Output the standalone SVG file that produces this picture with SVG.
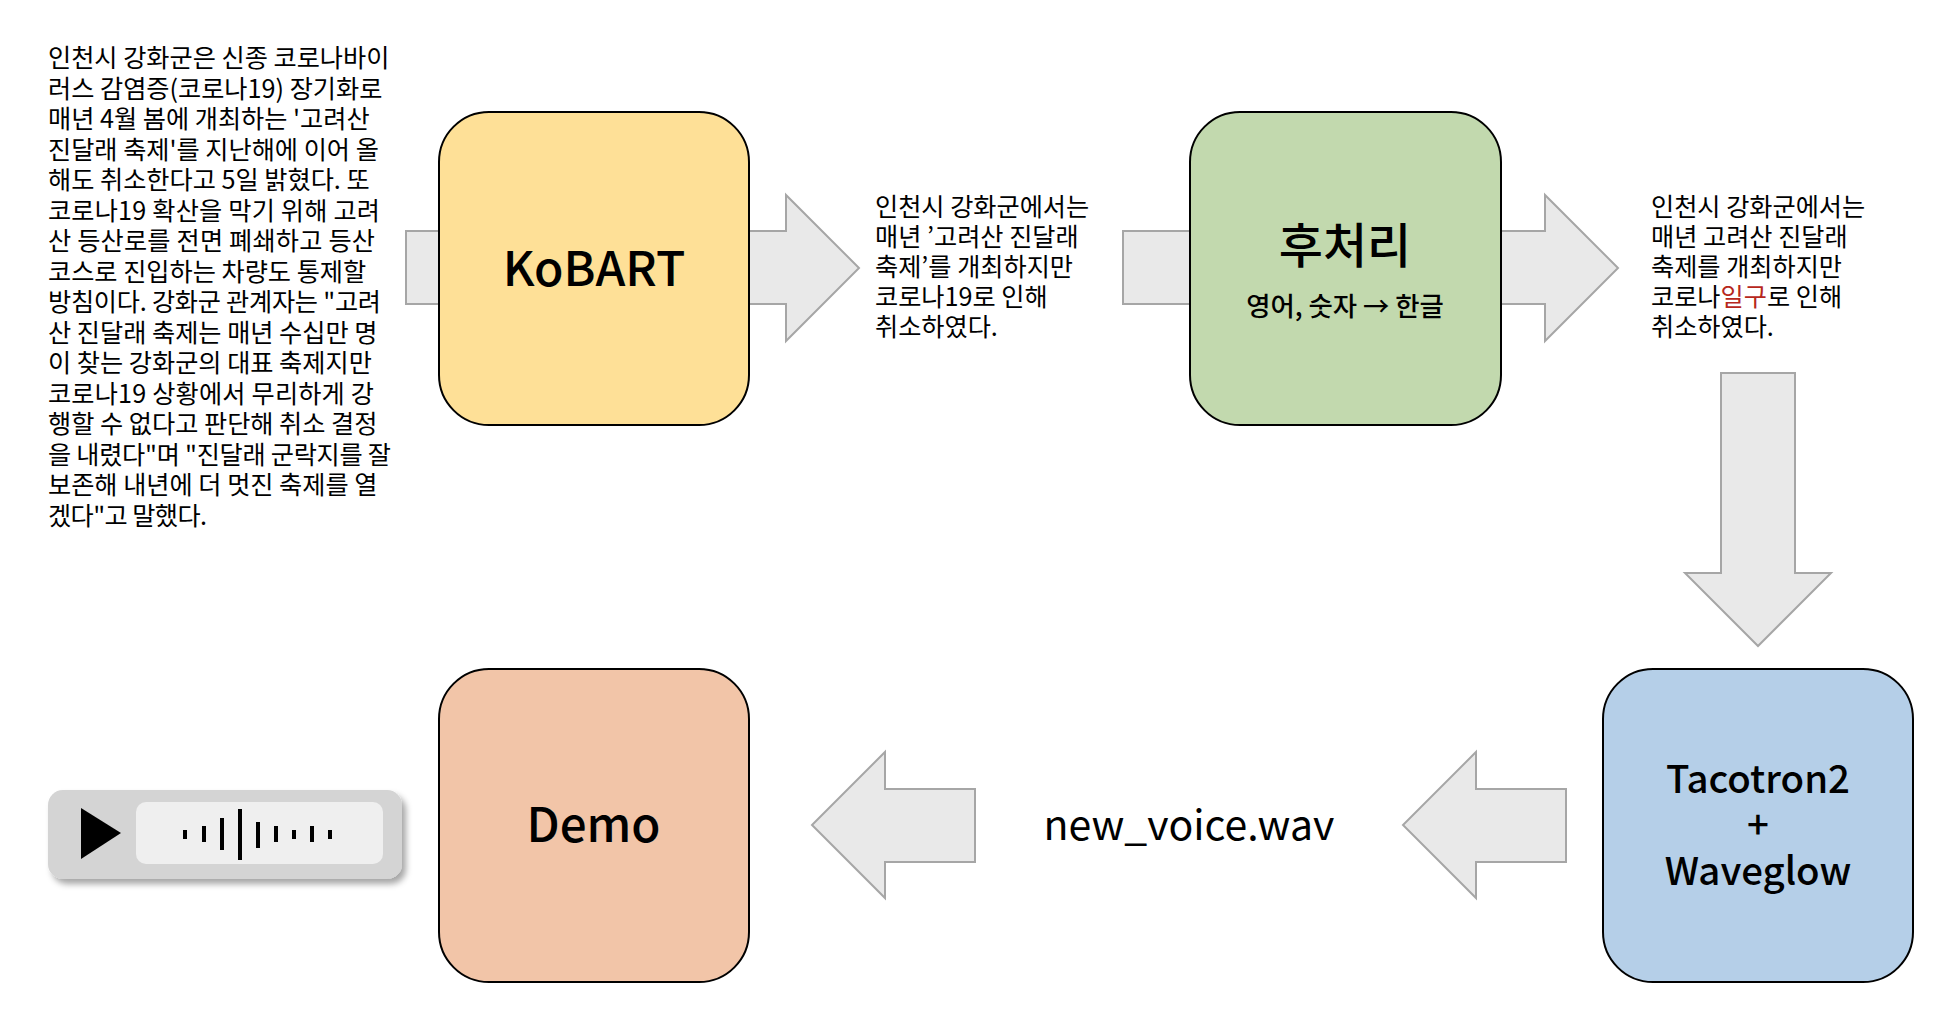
<svg xmlns="http://www.w3.org/2000/svg" width="1950" height="1028" viewBox="0 0 1950 1028">
<style>
text{font-family:"Noto Sans CJK KR","Noto Sans",sans-serif;fill:#000}
.body{font-size:25.2px}
.c{text-anchor:middle}
.box{stroke:#000;stroke-width:2}
.arrow{fill:#e9e9e9;stroke:#a6a6a6;stroke-width:2}
.t{font-size:48px;font-weight:500}
.m{font-size:38.4px;font-weight:500}
</style>
<defs><filter id="sh" x="-10%" y="-20%" width="125%" height="150%"><feDropShadow dx="4" dy="5" stdDeviation="3" flood-color="#000" flood-opacity="0.35"/></filter></defs>
<g id="connectors">
<polygon class="arrow" points="406,231 520,231 520,304 406,304"/>
<polygon class="arrow" points="749,231 786,231 786,195 859,268 786,341 786,304 749,304"/>
<polygon class="arrow" points="1123,231 1230,231 1230,304 1123,304"/>
<polygon class="arrow" points="1501,231 1545,231 1545,195 1618,268 1545,341 1545,304 1501,304"/>
<polygon class="arrow" points="1721,373 1795,373 1795,573 1831,573 1758,646 1685,573 1721,573"/>
<polygon class="arrow" points="1566,789 1476,789 1476,752 1403,825 1476,898 1476,862 1566,862"/>
<polygon class="arrow" points="975,789 885,789 885,752 812,825 885,898 885,862 975,862"/>
</g>
<g id="source-text">
<text class="body" x="48" y="67">인천시 강화군은 신종 코로나바이</text>
<text class="body" x="48" y="97.500">러스 감염증(코로나19) 장기화로</text>
<text class="body" x="48" y="128">매년 4월 봄에 개최하는 '고려산</text>
<text class="body" x="48" y="158.500">진달래 축제'를 지난해에 이어 올</text>
<text class="body" x="48" y="189">해도 취소한다고 5일 밝혔다. 또</text>
<text class="body" x="48" y="219.500" textLength="332">코로나19 확산을 막기 위해 고려</text>
<text class="body" x="48" y="250" textLength="327">산 등산로를 전면 폐쇄하고 등산</text>
<text class="body" x="48" y="280.500">코스로 진입하는 차량도 통제할</text>
<text class="body" x="48" y="311" textLength="333">방침이다. 강화군 관계자는 "고려</text>
<text class="body" x="48" y="341.500">산 진달래 축제는 매년 수십만 명</text>
<text class="body" x="48" y="372">이 찾는 강화군의 대표 축제지만</text>
<text class="body" x="48" y="402.500" textLength="326">코로나19 상황에서 무리하게 강</text>
<text class="body" x="48" y="433">행할 수 없다고 판단해 취소 결정</text>
<text class="body" x="48" y="463.500" textLength="343">을 내렸다"며 "진달래 군락지를 잘</text>
<text class="body" x="48" y="494">보존해 내년에 더 멋진 축제를 열</text>
<text class="body" x="48" y="524.500" textLength="159">겠다"고 말했다.</text>
</g>
<g id="kobart"><rect class="box" x="439" y="112" width="310" height="313" rx="50" fill="#fee097"/><text class="t c" x="594" y="286">KoBART</text></g>
<g id="summary-text">
<text class="body" x="875" y="216">인천시 강화군에서는</text>
<text class="body" x="875" y="246">매년 ’고려산 진달래</text>
<text class="body" x="875" y="276">축제’를 개최하지만</text>
<text class="body" x="875" y="306">코로나19로 인해</text>
<text class="body" x="875" y="336">취소하였다.</text>
</g>
<g id="postprocess"><rect class="box" x="1190" y="112" width="311" height="313" rx="50" fill="#c2d9ae"/><text class="t c" x="1345" y="263">후처리</text><text class="c" x="1345" y="316" style="font-size:26.400px;font-weight:500">영어, 숫자 → 한글</text></g>
<g id="post-text">
<text class="body" x="1651" y="216">인천시 강화군에서는</text>
<text class="body" x="1651" y="246">매년 고려산 진달래</text>
<text class="body" x="1651" y="276">축제를 개최하지만</text>
<text class="body" x="1651" y="306">코로나<tspan style="fill:#b7271c">일구</tspan>로 인해</text>
<text class="body" x="1651" y="336">취소하였다.</text>
</g>
<g id="tts"><rect class="box" x="1603" y="669" width="310" height="313" rx="50" fill="#b5cfe8"/><text class="m c" x="1758" y="793">Tacotron2</text><text class="m c" x="1758" y="839">+</text><text class="m c" x="1758" y="885">Waveglow</text></g>
<g id="wav"><text class="c" x="1189" y="840" style="font-size:41px">new_voice.wav</text></g>
<g id="demo"><rect class="box" x="439" y="669" width="310" height="313" rx="50" fill="#f2c5a8"/><text class="c" x="593.500" y="842" style="font-size:47.500px;font-weight:500">Demo</text></g>
<g id="player">
<rect x="48" y="790" width="354" height="89" rx="15" fill="#d4d4d4" filter="url(#sh)"/>
<rect x="136" y="802" width="247" height="62" rx="10" fill="#efefef"/>
<polygon points="81,808 121,833 81,859" fill="#000"/>
<g fill="#000">
<rect x="183" y="830" width="4" height="9"/><rect x="202" y="826" width="4" height="16"/><rect x="220" y="818" width="4" height="32"/><rect x="238" y="809" width="4" height="51"/><rect x="256" y="822" width="4" height="26"/><rect x="274" y="826" width="4" height="16"/><rect x="292" y="830" width="4" height="9"/><rect x="310" y="826" width="4" height="16"/><rect x="328" y="830" width="4" height="9"/>
</g>
</g>
</svg>
